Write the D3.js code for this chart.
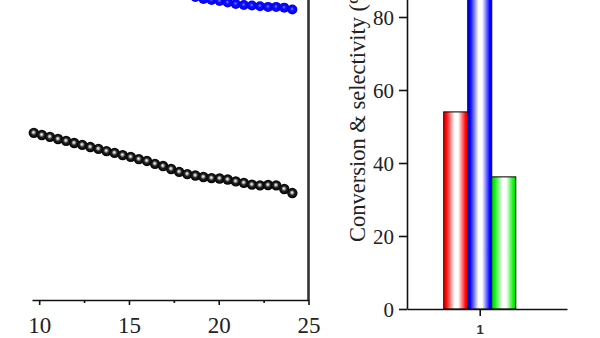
<!DOCTYPE html>
<html>
<head>
<meta charset="utf-8">
<script src="https://cdn.jsdelivr.net/npm/d3@7"></script>
<style>
  html, body { margin: 0; padding: 0; background: #fff; }
  svg { display: block; }
</style>
</head>
<body>
<svg id="chart" width="600" height="338"></svg>
<script>
// ---- Time-on-stream panel (h) ----
const timeHours = [9.7, 10.15, 10.6, 11.05, 11.5, 11.95, 12.4, 12.85, 13.3, 13.75,
  14.2, 14.65, 15.1, 15.55, 16.0, 16.45, 16.9, 17.35, 17.8, 18.25, 18.7, 19.15,
  19.6, 20.05, 20.5, 20.95, 21.4, 21.85, 22.3, 22.75, 23.2, 23.65, 24.1];
const conversionSeries = [45.8, 45.2, 44.7, 44.1, 43.6, 43.0, 42.5, 41.9, 41.4, 40.8,
  40.3, 39.7, 39.2, 38.6, 38.1, 37.3, 36.7, 35.9, 35.1, 34.5, 34.1, 33.7,
  33.4, 33.3, 33.0, 32.5, 32.1, 31.6, 31.4, 31.5, 31.4, 30.4, 29.3];
const selectivityTime = [18.7, 19.15, 19.6, 20.05, 20.5, 20.95, 21.4, 21.85, 22.3, 22.75, 23.2, 23.65, 24.1];
const selectivitySeries = [83.0, 82.5, 82.2, 81.9, 81.5, 81.1, 80.8, 80.7, 80.5, 80.3, 80.3, 80.1, 79.6];
const timeTicks = [10, 15, 20, 25];
const timeMinorTicks = [12.5, 17.5, 22.5];

// ---- Summary bar panel ----
const barGroups = [1];
const barSeries = ["Conversion", "Selectivity 1", "Selectivity 2"];
const barValues = [54, 90, 36.2];
const barColors = ["#ff0000", "#0000ff", "#00ee00"];
const percentTicks = [0, 20, 40, 60, 80];
const yTitle = "Conversion & selectivity (%)";

const svg = d3.select("#chart");
const serif = "'Liberation Serif', 'Times New Roman', Times, serif";
const defs = svg.append("defs");

// sphere-like marker fills
function sphere(id, stops) {
  const g = defs.append("radialGradient").attr("id", id)
    .attr("cx", "50%").attr("cy", "50%").attr("r", "50%")
    .attr("fx", "46%").attr("fy", "44%");
  stops.forEach(([o, c]) => g.append("stop").attr("offset", o).attr("stop-color", c));
}
sphere("ballBlack", [[0, "#ffffff"], [0.22, "#b0b0b0"], [0.5, "#202020"], [1, "#000000"]]);
sphere("ballBlue", [[0, "#8888ff"], [0.35, "#1010ff"], [1, "#0000e8"]]);

// bar fills: saturated edges, pale centre
barColors.forEach((c, i) => {
  const g = defs.append("linearGradient").attr("id", "barFill" + i)
    .attr("x1", "0%").attr("x2", "100%").attr("y1", "0%").attr("y2", "0%");
  [[0, c], [0.1, c], [0.45, "#ffffff"], [0.6, "#ffffff"], [0.92, c], [1, c]].forEach(([o, col]) => {
    g.append("stop").attr("offset", o).attr("stop-color", col);
  });
});

// ================= left panel =================
const xL = d3.scaleLinear().domain([9.6, 25]).range([32, 308.5]);
const yL = d3.scaleLinear().domain([0, 100]).range([300, -65]);

const left = svg.append("g");

// right spine
left.append("line")
  .attr("x1", xL(25)).attr("x2", xL(25))
  .attr("y1", yL(100)).attr("y2", yL(0))
  .attr("stroke", "#333").attr("stroke-width", 2.6);

const axL = left.append("g").attr("transform", `translate(0,${yL(0)})`)
  .call(d3.axisBottom(xL).tickValues(timeTicks).tickSize(5).tickSizeOuter(0));
axL.select(".domain").attr("stroke", "#111").attr("stroke-width", 1.6);
axL.selectAll(".tick line").attr("stroke", "#111").attr("stroke-width", 1.6);
axL.selectAll(".tick text")
  .attr("font-family", serif).attr("font-size", 23).attr("fill", "#222")
  .attr("y", 33).attr("dy", 0);

left.append("g").attr("transform", `translate(0,${yL(0)})`)
  .call(d3.axisBottom(xL).tickValues(timeMinorTicks).tickSize(3).tickFormat(""))
  .call(g => g.select(".domain").remove())
  .selectAll(".tick line").attr("stroke", "#111").attr("stroke-width", 1.6);

left.append("g").selectAll("circle")
  .data(selectivityTime.map((t, i) => [t, selectivitySeries[i]]))
  .join("circle")
  .attr("cx", d => xL(d[0])).attr("cy", d => yL(d[1]))
  .attr("r", 5).attr("fill", "url(#ballBlue)");

left.append("g").selectAll("circle")
  .data(timeHours.map((t, i) => [t, conversionSeries[i]]))
  .join("circle")
  .attr("cx", d => xL(d[0])).attr("cy", d => yL(d[1]))
  .attr("r", 5.2).attr("fill", "url(#ballBlack)");

// ================= right panel =================
const xR = d3.scaleLinear().domain([0.5, 1.6]).range([407, 567]);
const yR = d3.scaleLinear().domain([0, 100]).range([309, -56]);
const inner = d3.scaleBand().domain(barSeries).range([-36, 36]);

const right = svg.append("g");

right.append("g").selectAll("rect")
  .data(barGroups.flatMap(gp => barSeries.map((s, i) => ({ gp, s, i, v: barValues[i] }))))
  .join("rect")
  .attr("x", d => xR(d.gp) + inner(d.s))
  .attr("width", inner.bandwidth())
  .attr("y", d => yR(d.v))
  .attr("height", d => yR(0) - yR(d.v))
  .attr("fill", d => `url(#barFill${d.i})`)
  .attr("stroke", "#111").attr("stroke-width", 1.1);

const ayR = right.append("g").attr("transform", `translate(${xR(0.5)},0)`)
  .call(d3.axisLeft(yR).tickValues(percentTicks).tickSize(8).tickSizeOuter(0));
ayR.select(".domain").attr("stroke", "#111").attr("stroke-width", 1.6);
ayR.selectAll(".tick line").attr("stroke", "#111").attr("stroke-width", 1.6);
ayR.selectAll(".tick text")
  .attr("font-family", serif).attr("font-size", 21).attr("fill", "#222")
  .attr("x", -13).attr("dy", "0.34em");

const axR = right.append("g").attr("transform", `translate(0,${yR(0)})`)
  .call(d3.axisBottom(xR).tickValues(barGroups).tickSize(7).tickSizeOuter(0).tickFormat(d3.format("d")));
axR.select(".domain").attr("stroke", "#111").attr("stroke-width", 1.6);
axR.selectAll(".tick line").attr("stroke", "#111").attr("stroke-width", 1.6);
axR.selectAll(".tick text")
  .attr("font-family", "'Liberation Sans', Arial, sans-serif").attr("font-size", 13)
  .attr("font-weight", "bold").attr("fill", "#333").attr("y", 25).attr("dy", 0);

right.append("text")
  .attr("transform", "translate(365,242) rotate(-90)")
  .attr("font-family", serif).attr("font-size", 22.5).attr("fill", "#222")
  .attr("text-anchor", "start")
  .text(yTitle);
</script>
</body>
</html>
